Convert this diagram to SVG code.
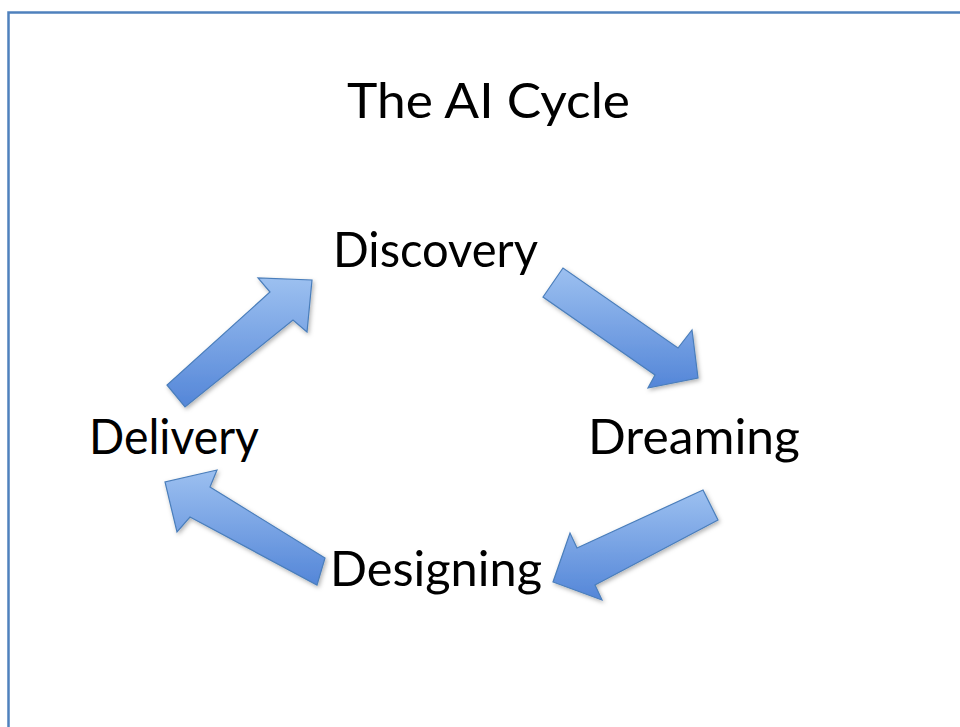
<svg xmlns="http://www.w3.org/2000/svg" width="960" height="727" viewBox="0 0 960 727">
<defs>
<style>
.lbl{font-family:Lato,"Open Sans","Liberation Sans",sans-serif;font-size:49px;fill:#000;}
.arr{fill:url(#g);stroke:#4a7ebb;stroke-width:1.2;stroke-linejoin:miter;filter:url(#sh);}
</style>
<linearGradient id="g" x1="0" y1="0" x2="0" y2="1">
<stop offset="0" stop-color="#9cc0f0"/>
<stop offset="1" stop-color="#5486d8"/>
</linearGradient>
<filter id="sh" x="-20%" y="-20%" width="140%" height="140%">
<feDropShadow dx="1.5" dy="2" stdDeviation="2" flood-color="#000" flood-opacity="0.3"/>
</filter>
</defs>
<rect width="960" height="727" fill="#fff"/>
<path d="M8.5,740 V12.5 H970" fill="none" stroke="#4f81bd" stroke-width="2.5"/>
<g id="title"><text class="lbl" x="347" y="118" textLength="283" lengthAdjust="spacingAndGlyphs">The AI Cycle</text></g>
<g id="discovery"><text class="lbl" x="333" y="267" textLength="205" lengthAdjust="spacingAndGlyphs">Discovery</text></g>
<g id="dreaming"><text class="lbl" x="588" y="454" textLength="212" lengthAdjust="spacingAndGlyphs">Dreaming</text></g>
<g id="delivery"><text class="lbl" x="89" y="454" textLength="170" lengthAdjust="spacingAndGlyphs">Delivery</text></g>
<g id="designing"><text class="lbl" x="330" y="586" textLength="212" lengthAdjust="spacingAndGlyphs">Designing</text></g>
<g id="connectors">
<polygon class="arr" points="543,297 563,268 678,348 692,330 698,378 648,388 655,375"/>
<polygon class="arr" points="167,385 185,407 293,320 307,332 312,280 258,278 270,292"/>
<polygon class="arr" points="703,490 718,520 595,585 602,600 553,582 570,533 577,548"/>
<polygon class="arr" points="325,558 317,585 190,517 177,532 165,482 217,470 210,487"/>
</g>
</svg>
